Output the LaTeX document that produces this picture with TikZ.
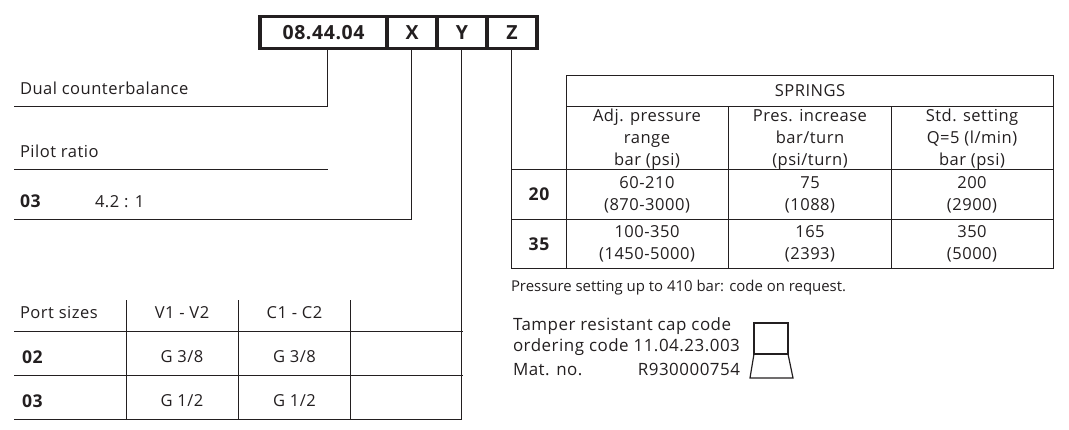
\documentclass[tikz,border=0pt]{standalone}
\usepackage{fontspec}
\setmainfont[LetterSpace=3]{Open Sans}
\newfontfamily\tightfont{Open Sans}
\definecolor{ink}{HTML}{231F20}
\tikzset{
 x=0.75pt,y=-0.75pt,
 every node/.style={text=ink,font=\fontsize{12.4pt}{16.5pt}\selectfont,inner sep=0pt,outer sep=0pt},
 codebox/.style={draw=ink,line width=2.3pt,minimum height=24.5pt,anchor=west,font=\fontsize{14.6pt}{15pt}\selectfont\bfseries},
 rule/.style={draw=ink,line width=0.75pt},
 lbl/.style={anchor=west},
 ctr/.style={align=center,anchor=center},
 boldl/.style={font=\fontsize{13.2pt}{15pt}\selectfont\bfseries},
 captext/.style={font=\fontsize{12.7pt}{16.5pt}\selectfont},
}
\begin{document}
\begin{tikzpicture}
\useasboundingbox (0,0) rectangle (1069,429);
% code boxes
\node[codebox,minimum width=95.3pt] (code) at (260,32.5) {08.44.04};
\node[codebox,minimum width=37.5pt] (X) at (387,32.5) {X};
\node[codebox,minimum width=37.5pt] (Y) at (437,32.5) {Y};
\node[codebox,minimum width=37.5pt] (Z) at (487,32.5) {Z};
% coordinates
\coordinate (c1) at (327.5,106); \coordinate (c1e) at (14,106);
\coordinate (x1) at (411.5,219); \coordinate (x1e) at (14,219);
\coordinate (y1) at (461.5,419); \coordinate (y1e) at (14,419);
\coordinate (z1) at (511.5,268);
\coordinate (p1) at (14,169); \coordinate (p2) at (328,169);
% connectors
\draw[rule] (c1e) -- (c1) -- (c1 |- code.south);
\draw[rule] (x1e) -- (x1) -- (x1 |- X.south);
\draw[rule] (y1e) -- (y1) -- (y1 |- Y.south);
\draw[rule] (z1) -- (z1 |- Z.south);
\draw[rule] (p1) -- (p2);
% left labels
\node[lbl] (dual) at (20,88) {Dual counterbalance};
\node[lbl] (pilot) at (20,151.5) {Pilot ratio};
\node[lbl,boldl] (r03) at (20,201) {03};
\node[lbl] (r42) at (95,201.5) {4.2 : 1};
% port table
\foreach \yy in {331,375} \draw[rule] (14,\yy) -- (463,\yy);
\foreach \xx in {126,238,350} \draw[rule] (\xx,300) -- (\xx,419);
\node[lbl] (ps) at (20,313) {Port sizes};
\node[ctr] (v) at (182,313) {V1 - V2};
\node[ctr] (c) at (294.5,313) {C1 - C2};
\node[lbl,boldl] (s02) at (22,357) {02};
\node[ctr] (a1) at (182,357) {G 3/8};
\node[ctr] (a2) at (294.5,357) {G 3/8};
\node[lbl,boldl] (s03) at (22,401) {03};
\node[ctr] (b1) at (182,401) {G 1/2};
\node[ctr] (b2) at (294.5,401) {G 1/2};
% springs table
\draw[rule] (566,75) rectangle (1053,268);
\draw[rule] (566,106) -- (1053,106);
\draw[rule] (511,169) -- (1053,169);
\draw[rule] (511,219) -- (1053,219);
\draw[rule] (511,268) -- (566,268);
\foreach \xx in {728,891} \draw[rule] (\xx,106) -- (\xx,268);
\node[ctr] (sp) at (810,91) {SPRINGS};
\node[ctr] (h1) at (647,139) {Adj. pressure\\range\\bar (psi)};
\node[ctr] (h2) at (810,139) {Pres. increase\\bar/turn\\(psi/turn)};
\node[ctr] (h3) at (972,139) {Std. setting\\Q=5 (l/min)\\bar (psi)};
\node[ctr,boldl] (t20) at (539,194) {20};
\node[ctr,boldl] (t35) at (539,244) {35};
\node[ctr] (d11) at (647,195) {60-210\\(870-3000)};
\node[ctr] (d12) at (810,195) {75\\(1088)};
\node[ctr] (d13) at (972,195) {200\\(2900)};
\node[ctr] (d21) at (647,244) {100-350\\(1450-5000)};
\node[ctr] (d22) at (810,244) {165\\(2393)};
\node[ctr] (d23) at (972,244) {350\\(5000)};
\node[lbl,font=\fontsize{11.2pt}{14pt}\tightfont] (note) at (511,288) {Pressure setting up to 410 bar: code on request.};
% cap
\node[lbl,captext] (cap1) at (513,326.5) {Tamper resistant cap code};
\node[lbl,captext] (cap2) at (513,347.5) {ordering code 11.04.23.003};
\node[lbl,captext] (cap3) at (513,369.5) {Mat. no.};
\node[anchor=east,captext] (cap4) at (740,369.5) {R930000754};
\draw[rule,line width=0.9pt] (754,323) rectangle (788,354);
\draw[rule,line width=0.9pt] (754,354) -- (750,378) -- (793,378) -- (788,354);
\end{tikzpicture}
\end{document}
